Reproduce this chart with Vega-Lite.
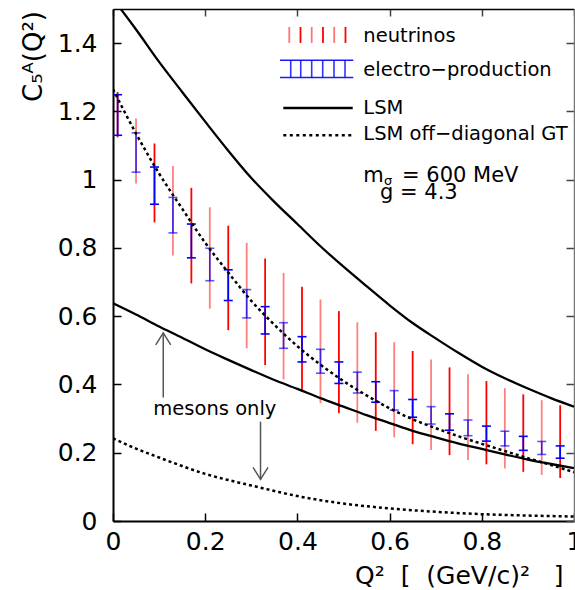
{
  "$schema": "https://vega.github.io/schema/vega-lite/v6.json",
  "width": 461,
  "height": 512,
  "autosize": {"type": "none"},
  "padding": {"left": 113, "top": 9, "right": 1, "bottom": 69},
  "background": "white",
  "config": {
    "view": {"stroke": null},
    "font": "DejaVu Sans",
    "axis": {"grid": false, "labelFont": "DejaVu Sans", "titleFont": "DejaVu Sans", "labelColor": "black", "titleColor": "black", "titleFontWeight": "normal"}
  },
  "datasets": {
    "pts": [
      {"q": 0.01, "nlo": 1.124, "nhi": 1.257, "elo": 1.130, "ehi": 1.249},
      {"q": 0.05, "nlo": 0.989, "nhi": 1.179, "elo": 1.022, "ehi": 1.137},
      {"q": 0.09, "nlo": 0.875, "nhi": 1.106, "elo": 0.928, "ehi": 1.037},
      {"q": 0.13, "nlo": 0.778, "nhi": 1.040, "elo": 0.844, "ehi": 0.948},
      {"q": 0.17, "nlo": 0.696, "nhi": 0.976, "elo": 0.771, "ehi": 0.870},
      {"q": 0.21, "nlo": 0.622, "nhi": 0.919, "elo": 0.704, "ehi": 0.799},
      {"q": 0.25, "nlo": 0.559, "nhi": 0.865, "elo": 0.646, "ehi": 0.736},
      {"q": 0.29, "nlo": 0.506, "nhi": 0.815, "elo": 0.595, "ehi": 0.678},
      {"q": 0.33, "nlo": 0.457, "nhi": 0.769, "elo": 0.548, "ehi": 0.628},
      {"q": 0.37, "nlo": 0.415, "nhi": 0.727, "elo": 0.506, "ehi": 0.581},
      {"q": 0.41, "nlo": 0.379, "nhi": 0.686, "elo": 0.466, "ehi": 0.540},
      {"q": 0.45, "nlo": 0.345, "nhi": 0.649, "elo": 0.433, "ehi": 0.503},
      {"q": 0.49, "nlo": 0.316, "nhi": 0.615, "elo": 0.403, "ehi": 0.466},
      {"q": 0.53, "nlo": 0.288, "nhi": 0.582, "elo": 0.375, "ehi": 0.436},
      {"q": 0.57, "nlo": 0.264, "nhi": 0.553, "elo": 0.348, "ehi": 0.408},
      {"q": 0.61, "nlo": 0.245, "nhi": 0.524, "elo": 0.325, "ehi": 0.382},
      {"q": 0.65, "nlo": 0.225, "nhi": 0.498, "elo": 0.304, "ehi": 0.356},
      {"q": 0.69, "nlo": 0.208, "nhi": 0.473, "elo": 0.284, "ehi": 0.335},
      {"q": 0.73, "nlo": 0.193, "nhi": 0.450, "elo": 0.266, "ehi": 0.314},
      {"q": 0.77, "nlo": 0.179, "nhi": 0.430, "elo": 0.250, "ehi": 0.296},
      {"q": 0.81, "nlo": 0.166, "nhi": 0.410, "elo": 0.234, "ehi": 0.278},
      {"q": 0.85, "nlo": 0.154, "nhi": 0.389, "elo": 0.220, "ehi": 0.263},
      {"q": 0.89, "nlo": 0.144, "nhi": 0.371, "elo": 0.207, "ehi": 0.248},
      {"q": 0.93, "nlo": 0.135, "nhi": 0.354, "elo": 0.195, "ehi": 0.233},
      {"q": 0.97, "nlo": 0.126, "nhi": 0.339, "elo": 0.184, "ehi": 0.220}
    ],
    "curves": [
      {"c": "LSM", "s": "solid", "q": 0.0, "v": 1.53},
      {"c": "LSM", "s": "solid", "q": 0.05, "v": 1.44},
      {"c": "LSM", "s": "solid", "q": 0.1, "v": 1.345},
      {"c": "LSM", "s": "solid", "q": 0.15, "v": 1.257},
      {"c": "LSM", "s": "solid", "q": 0.2, "v": 1.17},
      {"c": "LSM", "s": "solid", "q": 0.25, "v": 1.085},
      {"c": "LSM", "s": "solid", "q": 0.3, "v": 1.005},
      {"c": "LSM", "s": "solid", "q": 0.35, "v": 0.935},
      {"c": "LSM", "s": "solid", "q": 0.4, "v": 0.87},
      {"c": "LSM", "s": "solid", "q": 0.45, "v": 0.805},
      {"c": "LSM", "s": "solid", "q": 0.5, "v": 0.745},
      {"c": "LSM", "s": "solid", "q": 0.55, "v": 0.688},
      {"c": "LSM", "s": "solid", "q": 0.6, "v": 0.632},
      {"c": "LSM", "s": "solid", "q": 0.65, "v": 0.58},
      {"c": "LSM", "s": "solid", "q": 0.7, "v": 0.535},
      {"c": "LSM", "s": "solid", "q": 0.75, "v": 0.492},
      {"c": "LSM", "s": "solid", "q": 0.8, "v": 0.452},
      {"c": "LSM", "s": "solid", "q": 0.85, "v": 0.418},
      {"c": "LSM", "s": "solid", "q": 0.9, "v": 0.388},
      {"c": "LSM", "s": "solid", "q": 0.95, "v": 0.36},
      {"c": "LSM", "s": "solid", "q": 1.0, "v": 0.335},
      {"c": "LSMmes", "s": "solid", "q": 0.0, "v": 0.638},
      {"c": "LSMmes", "s": "solid", "q": 0.05, "v": 0.605},
      {"c": "LSMmes", "s": "solid", "q": 0.1, "v": 0.57},
      {"c": "LSMmes", "s": "solid", "q": 0.15, "v": 0.537},
      {"c": "LSMmes", "s": "solid", "q": 0.2, "v": 0.503},
      {"c": "LSMmes", "s": "solid", "q": 0.25, "v": 0.472},
      {"c": "LSMmes", "s": "solid", "q": 0.3, "v": 0.442},
      {"c": "LSMmes", "s": "solid", "q": 0.35, "v": 0.413},
      {"c": "LSMmes", "s": "solid", "q": 0.4, "v": 0.387},
      {"c": "LSMmes", "s": "solid", "q": 0.45, "v": 0.36},
      {"c": "LSMmes", "s": "solid", "q": 0.5, "v": 0.335},
      {"c": "LSMmes", "s": "solid", "q": 0.55, "v": 0.31},
      {"c": "LSMmes", "s": "solid", "q": 0.6, "v": 0.287},
      {"c": "LSMmes", "s": "solid", "q": 0.65, "v": 0.264},
      {"c": "LSMmes", "s": "solid", "q": 0.7, "v": 0.245},
      {"c": "LSMmes", "s": "solid", "q": 0.75, "v": 0.227},
      {"c": "LSMmes", "s": "solid", "q": 0.8, "v": 0.211},
      {"c": "LSMmes", "s": "solid", "q": 0.85, "v": 0.195},
      {"c": "LSMmes", "s": "solid", "q": 0.9, "v": 0.18},
      {"c": "LSMmes", "s": "solid", "q": 0.95, "v": 0.167},
      {"c": "LSMmes", "s": "solid", "q": 1.0, "v": 0.155},
      {"c": "GT", "s": "dotted", "q": 0.0, "v": 1.265},
      {"c": "GT", "s": "dotted", "q": 0.05, "v": 1.135},
      {"c": "GT", "s": "dotted", "q": 0.1, "v": 1.018},
      {"c": "GT", "s": "dotted", "q": 0.15, "v": 0.915},
      {"c": "GT", "s": "dotted", "q": 0.2, "v": 0.815},
      {"c": "GT", "s": "dotted", "q": 0.25, "v": 0.728},
      {"c": "GT", "s": "dotted", "q": 0.3, "v": 0.645},
      {"c": "GT", "s": "dotted", "q": 0.35, "v": 0.575},
      {"c": "GT", "s": "dotted", "q": 0.4, "v": 0.512},
      {"c": "GT", "s": "dotted", "q": 0.45, "v": 0.458},
      {"c": "GT", "s": "dotted", "q": 0.5, "v": 0.41},
      {"c": "GT", "s": "dotted", "q": 0.55, "v": 0.368},
      {"c": "GT", "s": "dotted", "q": 0.6, "v": 0.33},
      {"c": "GT", "s": "dotted", "q": 0.65, "v": 0.298},
      {"c": "GT", "s": "dotted", "q": 0.7, "v": 0.272},
      {"c": "GT", "s": "dotted", "q": 0.75, "v": 0.248},
      {"c": "GT", "s": "dotted", "q": 0.8, "v": 0.226},
      {"c": "GT", "s": "dotted", "q": 0.85, "v": 0.205},
      {"c": "GT", "s": "dotted", "q": 0.9, "v": 0.184},
      {"c": "GT", "s": "dotted", "q": 0.95, "v": 0.164},
      {"c": "GT", "s": "dotted", "q": 1.0, "v": 0.143},
      {"c": "GTmes", "s": "dotted", "q": 0.0, "v": 0.242},
      {"c": "GTmes", "s": "dotted", "q": 0.05, "v": 0.212},
      {"c": "GTmes", "s": "dotted", "q": 0.1, "v": 0.186},
      {"c": "GTmes", "s": "dotted", "q": 0.15, "v": 0.161},
      {"c": "GTmes", "s": "dotted", "q": 0.2, "v": 0.138},
      {"c": "GTmes", "s": "dotted", "q": 0.25, "v": 0.12},
      {"c": "GTmes", "s": "dotted", "q": 0.3, "v": 0.104},
      {"c": "GTmes", "s": "dotted", "q": 0.35, "v": 0.088},
      {"c": "GTmes", "s": "dotted", "q": 0.4, "v": 0.073},
      {"c": "GTmes", "s": "dotted", "q": 0.45, "v": 0.061},
      {"c": "GTmes", "s": "dotted", "q": 0.5, "v": 0.051},
      {"c": "GTmes", "s": "dotted", "q": 0.6, "v": 0.037},
      {"c": "GTmes", "s": "dotted", "q": 0.7, "v": 0.027},
      {"c": "GTmes", "s": "dotted", "q": 0.8, "v": 0.02},
      {"c": "GTmes", "s": "dotted", "q": 0.9, "v": 0.016},
      {"c": "GTmes", "s": "dotted", "q": 1.0, "v": 0.013}
    ],
    "arrows": [
      {"x": 0.109, "tail": 0.362, "tip": 0.551, "dir": "up"},
      {"x": 0.320, "tail": 0.291, "tip": 0.122, "dir": "down"}
    ],
    "legN": [
      {"x": 0.3824, "lo": 1.4006, "hi": 1.4474},
      {"x": 0.4067, "lo": 1.4006, "hi": 1.4474},
      {"x": 0.4310, "lo": 1.4006, "hi": 1.4474},
      {"x": 0.4555, "lo": 1.4006, "hi": 1.4474},
      {"x": 0.4798, "lo": 1.4006, "hi": 1.4474},
      {"x": 0.5043, "lo": 1.4006, "hi": 1.4474}
    ],
    "legEv": [
      {"x": 0.3855, "lo": 1.2993, "hi": 1.35},
      {"x": 0.4072, "lo": 1.2993, "hi": 1.35},
      {"x": 0.4310, "lo": 1.2993, "hi": 1.35},
      {"x": 0.4549, "lo": 1.2993, "hi": 1.35},
      {"x": 0.4794, "lo": 1.2993, "hi": 1.35},
      {"x": 0.5033, "lo": 1.2993, "hi": 1.35}
    ],
    "legEh": [
      {"x": 0.3623, "x2": 0.5213, "y": 1.35},
      {"x": 0.3623, "x2": 0.5213, "y": 1.2993}
    ],
    "legL": [
      {"x": 0.3694, "x2": 0.52, "y": 1.2102, "s": "solid"},
      {"x": 0.3694, "x2": 0.52, "y": 1.1303, "s": "dotted"}
    ],
    "legT": [
      {"x": 0.543, "y": 1.4035, "t": "neutrinos"},
      {"x": 0.543, "y": 1.3031, "t": "electro−production"},
      {"x": 0.543, "y": 1.1938, "t": "LSM"},
      {"x": 0.543, "y": 1.1157, "t": "LSM off−diagonal GT"}
    ],
    "params": [
      {"x": 0.543, "y": 0.9936, "t": "m"},
      {"x": 0.627, "y": 0.9936, "t": "= 600 MeV"},
      {"x": 0.5792, "y": 0.9429, "t": "g = 4.3"}
    ],
    "sigma": [{"x": 0.588, "y": 0.985, "t": "σ"}],
    "notes": [{"x": 0.221, "y": 0.312, "t": "mesons only"}]
  },
  "layer": [
    {
      "layer": [
        {
          "data": {"name": "pts"},
          "transform": [{"window": [{"op": "row_number", "as": "i"}]}],
          "mark": {"type": "rule", "color": "#ff0000", "strokeWidth": 1.8},
          "encoding": {
            "x": {"field": "q", "type": "quantitative", "scale": {"domain": [0, 1], "nice": false, "zero": false},
              "axis": {"values": [0, 0.2, 0.4, 0.6, 0.8, 1], "format": "~g", "labelFontSize": 25, "labelPadding": 16, "labelFlush": false, "labelOverlap": false,
                "tickSize": -8, "tickColor": "black", "tickWidth": 1.5, "domainColor": "black", "domainWidth": 2,
                "title": "Q²\u00a0\u00a0[\u00a0\u00a0(GeV/c)²\u00a0\u00a0\u00a0]", "titleFontSize": 25, "titleX": 450, "titleY": 62, "titleAlign": "right", "titleBaseline": "alphabetic", "titleAnchor": "end"}},
            "y": {"field": "nlo", "type": "quantitative", "scale": {"domain": [0, 1.5], "nice": false, "zero": false},
              "axis": {"values": [0, 0.2, 0.4, 0.6, 0.8, 1, 1.2, 1.4], "format": "~g", "labelFontSize": 25, "labelPadding": 24, "labelFlush": false, "labelOverlap": false,
                "tickSize": -8, "tickColor": "black", "tickWidth": 1.5, "domainColor": "black", "domainWidth": 2,
                "title": "C₅ᴬ(Q²)", "titleFontSize": 26, "titleX": -72, "titleY": 47, "titleAngle": 270, "titleAlign": "center", "titleBaseline": "alphabetic"}},
            "y2": {"field": "nhi"},
            "opacity": {"condition": {"test": "datum.i % 2 == 0", "value": 0.5}, "value": 1}
          }
        },
        {
          "data": {"name": "pts"},
          "transform": [{"window": [{"op": "row_number", "as": "i"}]}],
          "mark": {"type": "rule", "color": "#0000ff", "strokeWidth": 1.6},
          "encoding": {
            "x": {"field": "q", "type": "quantitative"},
            "y": {"field": "elo", "type": "quantitative"},
            "y2": {"field": "ehi"},
            "opacity": {"condition": {"test": "datum.i % 2 == 0", "value": 0.75}, "value": 1}
          }
        },
        {
          "data": {"name": "pts"},
          "transform": [{"window": [{"op": "row_number", "as": "i"}]}],
          "mark": {"type": "tick", "orient": "horizontal", "color": "#0000ff", "size": 9, "thickness": 1.6},
          "encoding": {
            "x": {"field": "q", "type": "quantitative"},
            "y": {"field": "elo", "type": "quantitative"},
            "opacity": {"condition": {"test": "datum.i % 2 == 0", "value": 0.65}, "value": 1}
          }
        },
        {
          "data": {"name": "pts"},
          "transform": [{"window": [{"op": "row_number", "as": "i"}]}],
          "mark": {"type": "tick", "orient": "horizontal", "color": "#0000ff", "size": 9, "thickness": 1.6},
          "encoding": {
            "x": {"field": "q", "type": "quantitative"},
            "y": {"field": "ehi", "type": "quantitative"},
            "opacity": {"condition": {"test": "datum.i % 2 == 0", "value": 0.65}, "value": 1}
          }
        },
        {
          "data": {"name": "curves"},
          "transform": [{"filter": "datum.s == 'solid'"}],
          "mark": {"type": "line", "color": "black", "strokeWidth": 2.3, "interpolate": "monotone", "clip": true},
          "encoding": {
            "x": {"field": "q", "type": "quantitative"},
            "y": {"field": "v", "type": "quantitative"},
            "detail": {"field": "c"}
          }
        },
        {
          "data": {"name": "curves"},
          "transform": [{"filter": "datum.s == 'dotted'"}],
          "mark": {"type": "line", "color": "black", "strokeWidth": 2.5, "strokeDash": [3, 3], "interpolate": "monotone", "clip": true},
          "encoding": {
            "x": {"field": "q", "type": "quantitative"},
            "y": {"field": "v", "type": "quantitative"},
            "detail": {"field": "c"}
          }
        },
        {
          "data": {"name": "arrows"},
          "mark": {"type": "rule", "color": "#555555", "strokeWidth": 1.5},
          "encoding": {
            "x": {"field": "x", "type": "quantitative"},
            "y": {"field": "tail", "type": "quantitative"},
            "y2": {"field": "tip"}
          }
        },
        {
          "data": {"name": "arrows"},
          "mark": {"type": "point", "filled": false, "color": "#555555", "strokeWidth": 1.5, "size": 225, "opacity": 1},
          "encoding": {
            "x": {"field": "x", "type": "quantitative"},
            "y": {"field": "tip", "type": "quantitative"},
            "shape": {"field": "dir", "type": "nominal", "scale": {"domain": ["up", "down"], "range": ["M-1,1.6L0,0L1,1.6", "M-1,-1.6L0,0L1,-1.6"]}, "legend": null}
          }
        },
        {
          "data": {"name": "legN"},
          "transform": [{"window": [{"op": "row_number", "as": "i"}]}],
          "mark": {"type": "rule", "color": "#ff0000", "strokeWidth": 1.8},
          "encoding": {
            "x": {"field": "x", "type": "quantitative"},
            "y": {"field": "lo", "type": "quantitative"},
            "y2": {"field": "hi"},
            "opacity": {"condition": {"test": "datum.i % 2 == 1", "value": 0.55}, "value": 1}
          }
        },
        {
          "data": {"name": "legEv"},
          "mark": {"type": "rule", "color": "#0000ff", "strokeWidth": 1.6, "opacity": 0.8},
          "encoding": {
            "x": {"field": "x", "type": "quantitative"},
            "y": {"field": "lo", "type": "quantitative"},
            "y2": {"field": "hi"}
          }
        },
        {
          "data": {"name": "legEh"},
          "mark": {"type": "rule", "color": "#0000ff", "strokeWidth": 1.6, "opacity": 0.9},
          "encoding": {
            "x": {"field": "x", "type": "quantitative"},
            "x2": {"field": "x2"},
            "y": {"field": "y", "type": "quantitative"}
          }
        },
        {
          "data": {"name": "legL"},
          "transform": [{"filter": "datum.s == 'solid'"}],
          "mark": {"type": "rule", "color": "black", "strokeWidth": 2.5},
          "encoding": {
            "x": {"field": "x", "type": "quantitative"},
            "x2": {"field": "x2"},
            "y": {"field": "y", "type": "quantitative"}
          }
        },
        {
          "data": {"name": "legL"},
          "transform": [{"filter": "datum.s == 'dotted'"}],
          "mark": {"type": "rule", "color": "black", "strokeWidth": 2.5, "strokeDash": [3, 3.5]},
          "encoding": {
            "x": {"field": "x", "type": "quantitative"},
            "x2": {"field": "x2"},
            "y": {"field": "y", "type": "quantitative"}
          }
        },
        {
          "data": {"name": "legT"},
          "mark": {"type": "text", "align": "left", "baseline": "alphabetic", "fontSize": 19.5, "font": "DejaVu Sans", "color": "black"},
          "encoding": {
            "x": {"field": "x", "type": "quantitative"},
            "y": {"field": "y", "type": "quantitative"},
            "text": {"field": "t"}
          }
        },
        {
          "data": {"name": "params"},
          "mark": {"type": "text", "align": "left", "baseline": "alphabetic", "fontSize": 21, "font": "DejaVu Sans", "color": "black"},
          "encoding": {
            "x": {"field": "x", "type": "quantitative"},
            "y": {"field": "y", "type": "quantitative"},
            "text": {"field": "t"}
          }
        },
        {
          "data": {"name": "sigma"},
          "mark": {"type": "text", "align": "left", "baseline": "alphabetic", "fontSize": 13, "font": "DejaVu Sans", "color": "black"},
          "encoding": {
            "x": {"field": "x", "type": "quantitative"},
            "y": {"field": "y", "type": "quantitative"},
            "text": {"field": "t"}
          }
        },
        {
          "data": {"name": "notes"},
          "mark": {"type": "text", "align": "center", "baseline": "alphabetic", "fontSize": 19.5, "font": "DejaVu Sans", "color": "black"},
          "encoding": {
            "x": {"field": "x", "type": "quantitative"},
            "y": {"field": "y", "type": "quantitative"},
            "text": {"field": "t"}
          }
        }
      ]
    },
    {
      "data": {"name": "arrows"},
      "mark": {"type": "point", "opacity": 0},
      "encoding": {
        "x": {"field": "x", "type": "quantitative",
          "axis": {"orient": "top", "values": [0, 0.2, 0.4, 0.6, 0.8, 1], "labels": false, "title": null, "tickSize": -7, "tickColor": "#444444", "tickWidth": 1.5, "domainColor": "black", "domainWidth": 1.5}},
        "y": {"field": "tip", "type": "quantitative",
          "axis": {"orient": "right", "values": [0, 0.2, 0.4, 0.6, 0.8, 1, 1.2, 1.4], "labels": false, "title": null, "tickSize": -8, "tickColor": "#444444", "tickWidth": 1.5, "domainColor": "#777777", "domainWidth": 1.5}}
      }
    }
  ],
  "resolve": {"axis": {"x": "independent", "y": "independent"}}
}
